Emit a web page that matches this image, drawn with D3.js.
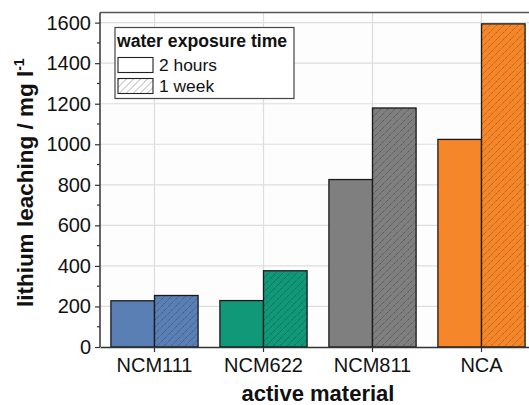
<!DOCTYPE html>
<html>
<head>
<meta charset="utf-8">
<script src="https://cdn.jsdelivr.net/npm/d3@7"></script>
<style>
  html, body { margin: 0; padding: 0; background: #ffffff; }
  svg { display: block; font-family: "Liberation Sans", Arial, sans-serif; }
</style>
</head>
<body>
<svg id="chart" width="529" height="405"></svg>
<script>
// Lithium leached into water per active material, after two exposure times
const materials = ["NCM111", "NCM622", "NCM811", "NCA"];
const exposures = ["2 hours", "1 week"];
const leach2h   = [228, 229, 826, 1024];
const leach1wk  = [254, 376, 1179, 1594];
const colors    = ["#5a7fb4", "#119879", "#7f7f7f", "#f5872a"];
const hatchInk  = ["#334f78", "#0a5c49", "#4a4a4a", "#9a531a"];
const yTicks    = [0, 200, 400, 600, 800, 1000, 1200, 1400, 1600];

const svg = d3.select("#chart");
const margin = { left: 100, right: -7, top: 12.5, bottom: 58 };
const W = 529, H = 405;
const x0 = margin.left, x1 = W - margin.right;
const yTop = margin.top, yBot = H - margin.bottom;

const x = d3.scaleBand().domain(materials).range([x0, x1]).paddingInner(0.2).paddingOuter(0.1);
const xSub = d3.scaleBand().domain(exposures).range([0, x.bandwidth()]);
const y = d3.scaleLinear().domain([0, 1650]).range([yBot, yTop]);

// hatch patterns for the one-week bars
const defs = svg.append("defs");
materials.forEach((m, i) => {
  const p = defs.append("pattern")
    .attr("id", "hatch" + i)
    .attr("patternUnits", "userSpaceOnUse")
    .attr("width", 7).attr("height", 7);
  p.append("rect").attr("width", 7).attr("height", 7).attr("fill", colors[i]);
  p.append("path")
    .attr("d", "M-1,8 L8,-1 M-1,1 L1,-1 M6,8 L8,6")
    .attr("stroke", hatchInk[i]).attr("stroke-width", 0.9)
    .attr("stroke-dasharray", "1.4,0.8").attr("fill", "none");
});
const legendHatch = defs.append("pattern")
  .attr("id", "hatchLegend").attr("patternUnits", "userSpaceOnUse")
  .attr("width", 7).attr("height", 7);
legendHatch.append("rect").attr("width", 7).attr("height", 7).attr("fill", "#ffffff");
legendHatch.append("path")
  .attr("d", "M-1,8 L8,-1 M-1,1 L1,-1 M6,8 L8,6")
  .attr("stroke", "#9a9a9a").attr("stroke-width", 0.8).attr("fill", "none");

// plot background
svg.append("rect").attr("x", x0).attr("y", yTop).attr("width", x1 - x0).attr("height", yBot - yTop)
  .attr("fill", "#fdfdfd");

// gridlines
const grid = svg.append("g");
grid.selectAll("line.h").data(yTicks.filter(d => d > 0)).join("line")
  .attr("x1", x0).attr("x2", x1).attr("y1", d => y(d)).attr("y2", d => y(d))
  .attr("stroke", "#dddddd").attr("stroke-width", 1.2);
grid.selectAll("line.v").data(materials).join("line")
  .attr("x1", d => x(d) + x.bandwidth() / 2).attr("x2", d => x(d) + x.bandwidth() / 2)
  .attr("y1", yTop).attr("y2", yBot)
  .attr("stroke", "#dddddd").attr("stroke-width", 1.2);

// bars
const rows = materials.map((m, i) => ({ m, i, vals: [leach2h[i], leach1wk[i]] }));
const groups = svg.append("g").selectAll("g").data(rows).join("g")
  .attr("transform", d => `translate(${x(d.m)},0)`);
groups.selectAll("rect").data(d => d.vals.map((v, k) => ({ v, k, i: d.i }))).join("rect")
  .attr("x", d => xSub(exposures[d.k]))
  .attr("width", xSub.bandwidth())
  .attr("y", d => y(d.v))
  .attr("height", d => y(0) - y(d.v))
  .attr("fill", d => d.k === 0 ? colors[d.i] : `url(#hatch${d.i})`)
  .attr("stroke", "#1a1a1a").attr("stroke-width", 1.3);

// frame top line
svg.append("line").attr("x1", x0).attr("x2", x1).attr("y1", yTop).attr("y2", yTop)
  .attr("stroke", "#555555").attr("stroke-width", 1.5);

// y axis: major ticks with labels, minor ticks in between
const yAxis = svg.append("g").attr("transform", `translate(${x0},0)`)
  .call(d3.axisLeft(y).tickValues(yTicks).tickSize(5).tickPadding(4).tickFormat(d3.format("d")));
yAxis.selectAll(".tick text").attr("font-size", 20).attr("fill", "#111");
const minor = d3.range(100, 1700, 200);
yAxis.selectAll("line.minor").data(minor).join("line").attr("class", "minor")
  .attr("x1", 0).attr("x2", -3).attr("y1", d => y(d)).attr("y2", d => y(d))
  .attr("stroke", "#333").attr("stroke-width", 1.2);
yAxis.select(".domain").attr("d", `M0,${yTop}V${yBot}`).attr("stroke", "#333").attr("stroke-width", 1.5);
yAxis.selectAll(".tick line").attr("stroke", "#333").attr("stroke-width", 1.2);

// x axis
const xAxis = svg.append("g").attr("transform", `translate(0,${yBot})`)
  .call(d3.axisBottom(x).tickSize(5).tickPadding(6).tickSizeOuter(0));
xAxis.selectAll(".tick text").attr("font-size", 20).attr("fill", "#111");
xAxis.select(".domain").attr("stroke", "#333").attr("stroke-width", 1.5);
xAxis.selectAll(".tick line").attr("stroke", "#333").attr("stroke-width", 1.2);

// axis titles
svg.append("text")
  .attr("transform", `translate(33,${(yTop + yBot) / 2 + 3}) rotate(-90)`)
  .attr("text-anchor", "middle").attr("font-size", 22.5).attr("font-weight", "bold").attr("fill", "#111")
  .html('lithium leaching / mg l<tspan dy="-9" font-size="14">-1</tspan>');
svg.append("text")
  .attr("x", (x0 + x1) / 2).attr("y", 401)
  .attr("text-anchor", "middle").attr("font-size", 22).attr("font-weight", "bold").attr("fill", "#111")
  .text("active material");

// legend
const lg = svg.append("g").attr("transform", "translate(115,27.5)");
lg.append("rect").attr("width", 179).attr("height", 71)
  .attr("fill", "#ffffff").attr("stroke", "#444").attr("stroke-width", 1.2);
lg.append("text").attr("x", 2).attr("y", 19).attr("font-size", 17.6).attr("font-weight", "bold")
  .attr("fill", "#111").text("water exposure time");
exposures.forEach((e, k) => {
  const yy = 30 + k * 21;
  lg.append("rect").attr("x", 3).attr("y", yy).attr("width", 35).attr("height", 15)
    .attr("fill", k === 0 ? "#ffffff" : "url(#hatchLegend)")
    .attr("stroke", "#222").attr("stroke-width", 1.1);
  lg.append("text").attr("x", 44).attr("y", yy + 13.5).attr("font-size", 17.4).attr("fill", "#111").text(e);
});
</script>
</body>
</html>
